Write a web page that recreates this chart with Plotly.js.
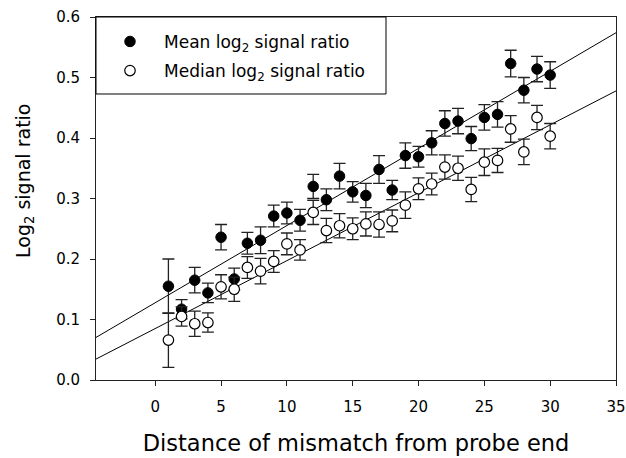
<!DOCTYPE html>
<html>
<head>
<meta charset="utf-8">
<script src="https://cdn.plot.ly/plotly-3.0.1.min.js"></script>
<style>html,body{margin:0;padding:0;background:#fff;}#chart{width:626px;height:458px;}</style>
</head>
<body>
<div id="chart"></div>
<script>
const distance = [1,2,3,4,5,6,7,8,9,10,11,12,13,14,15,16,17,18,19,20,21,22,23,24,25,26,27,28,29,30];
const meanRatio = [0.155,0.117,0.165,0.144,0.236,0.167,0.226,0.231,0.271,0.276,0.264,0.320,0.298,0.337,0.311,0.305,0.348,0.314,0.371,0.369,0.392,0.424,0.428,0.399,0.434,0.439,0.523,0.479,0.514,0.504];
const meanErr = [0.045,0.016,0.021,0.016,0.021,0.018,0.018,0.022,0.018,0.018,0.018,0.020,0.018,0.021,0.017,0.020,0.023,0.016,0.021,0.017,0.020,0.021,0.021,0.020,0.021,0.021,0.022,0.021,0.021,0.022];
const medianRatio = [0.066,0.105,0.093,0.095,0.154,0.150,0.186,0.180,0.196,0.225,0.215,0.277,0.247,0.255,0.250,0.258,0.257,0.263,0.289,0.316,0.324,0.352,0.350,0.315,0.360,0.363,0.415,0.377,0.434,0.403];
const medianErr = [0.045,0.016,0.021,0.016,0.020,0.020,0.018,0.021,0.018,0.018,0.017,0.020,0.020,0.020,0.018,0.020,0.021,0.018,0.022,0.018,0.018,0.020,0.020,0.020,0.022,0.020,0.022,0.021,0.020,0.021];
const xRange = [-4.5, 35];
const xTicks = [0,5,10,15,20,25,30,35];
const yTicks = [0,0.1,0.2,0.3,0.4,0.5,0.6];
const xTitle = 'Distance of mismatch from probe end';
const yTitle = 'Log<sub>2</sub> signal ratio';

function fit(xs, ys) {
  const n = xs.length;
  const mx = xs.reduce((a,b)=>a+b,0)/n, my = ys.reduce((a,b)=>a+b,0)/n;
  let sxy = 0, sxx = 0;
  for (let i=0;i<n;i++){ sxy += (xs[i]-mx)*(ys[i]-my); sxx += (xs[i]-mx)*(xs[i]-mx); }
  const b = sxy/sxx, a = my - b*mx;
  return {x: xRange.slice(), y: xRange.map(v => a + b*v)};
}
const meanFit = fit(distance, meanRatio);
const medianFit = fit(distance, medianRatio);

const FONT = 'DejaVu Sans, Arial, sans-serif';
const errStyle = {type:'data', visible:true, thickness:1.3, width:6, color:'#222'};

const data = [
  {x: meanFit.x, y: meanFit.y, mode:'lines', line:{color:'#000', width:1}, showlegend:false, hoverinfo:'skip'},
  {x: medianFit.x, y: medianFit.y, mode:'lines', line:{color:'#000', width:1}, showlegend:false, hoverinfo:'skip'},
  {x: distance, y: meanRatio, mode:'markers', name:'Mean log<sub>2</sub> signal ratio', legendgroup:'a',
   marker:{symbol:'circle', size:10.5, color:'#000', line:{color:'#000', width:1}},
   error_y: Object.assign({array: meanErr}, errStyle)},
  {x: distance, y: medianRatio, mode:'markers', name:'Median log<sub>2</sub> signal ratio', legendgroup:'b',
   marker:{symbol:'circle', size:10.5, color:'#fff', line:{color:'#000', width:1.2}},
   error_y: Object.assign({array: medianErr}, errStyle)}
];

const layout = {
  width: 626, height: 458,
  margin: {l:96, r:10, t:17, b:78},
  paper_bgcolor:'#fff', plot_bgcolor:'#fff',
  font: {family: FONT, color:'#000', size:15},
  showlegend: true,
  legend: {x:0, y:0.981, xanchor:'left', yanchor:'top', bgcolor:'rgba(0,0,0,0)', borderwidth:0,
           font:{family: FONT, size:17, color:'#000'}, itemwidth:58, traceorder:'grouped', tracegroupgap:4},
  xaxis: {range: xRange, tickvals: xTicks, ticktext: xTicks.map(String), showgrid:false, zeroline:false,
          showline:true, linecolor:'#222', linewidth:1, mirror:true, ticks:'outside', ticklen:5, tickcolor:'#222',
          tickfont:{family: FONT, size:15}, ticklabelstandoff:8,
          title:{text: xTitle, font:{family: FONT, size:22.5}, standoff:20}},
  yaxis: {range:[0,0.6], tickvals: yTicks, ticktext: yTicks.map(v=>v.toFixed(1)), showgrid:false, zeroline:false,
          showline:true, linecolor:'#222', linewidth:1, mirror:true, ticks:'outside', ticklen:5, tickcolor:'#222',
          tickfont:{family: FONT, size:15}, ticklabelstandoff:7},
  annotations: [{text: yTitle, xref:'paper', yref:'paper', x:-72/520, y:(380-181)/363, xanchor:'center', yanchor:'middle',
                 textangle:-90, showarrow:false, font:{family: FONT, size:19, color:'#000'}}],
  shapes: [{type:'rect', xref:'paper', yref:'paper', x0:0, x1:0.5577, y0:0.7879, y1:1,
            line:{color:'#000', width:1}, fillcolor:'rgba(0,0,0,0)', layer:'above'}]
};

Plotly.newPlot('chart', data, layout, {displayModeBar:false, staticPlot:true});
</script>
</body>
</html>
